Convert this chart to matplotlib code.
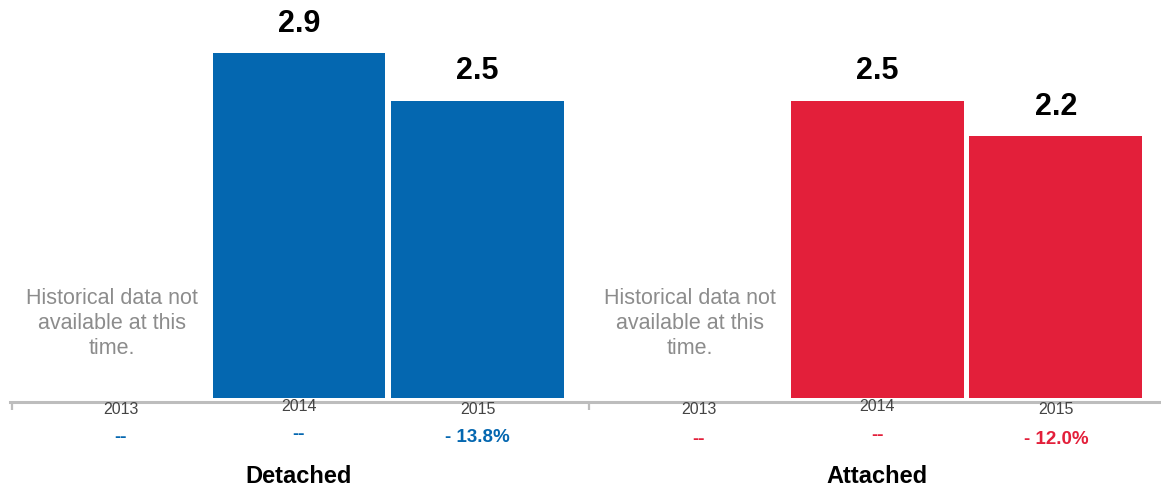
import numpy as np
import matplotlib
matplotlib.use('Agg')
import matplotlib.pyplot as plt

plt.rcParams['font.family'] = ['Liberation Sans', 'DejaVu Sans']

years = ['2013', '2014', '2015']
groups = ['Detached', 'Attached']
detached = [np.nan, 2.9, 2.5]
attached = [np.nan, 2.5, 2.2]
detached_change = ['--', '--', '- 13.8%']
attached_change = ['--', '--', '- 12.0%']
note = 'Historical data not\navailable at this\ntime.'

blue = '#0467b0'
red = '#e31f3a'
grey = '#bdbdbd'

fig = plt.figure(figsize=(11.61, 4.91), dpi=100)
ax = fig.add_axes([10 / 1161, 0.182, 1151 / 1161, 0.818])

group_offset = [0, 3.24]
series = [detached, attached]
changes = [detached_change, attached_change]
colors = [blue, red]

for g in range(2):
    x = np.arange(len(years)) + group_offset[g]
    vals = np.array(series[g], dtype=float)
    ax.bar(x, vals, width=0.969, color=colors[g], zorder=2)
    for i in range(len(years)):
        if np.isnan(vals[i]):
            # no bar for this year, show the note instead
            ax.text(x[i] - 0.05, 0.625, note, ha='center', va='center',
                    fontsize=15.5, color='#8c8c8c', linespacing=1.25)
        else:
            ax.text(x[i], vals[i] + 0.18, f'{vals[i]:.1f}', ha='center',
                    va='baseline', fontsize=22, fontweight='bold', color='black')
        dy = 0.025 if i == 1 else 0
        ax.text(x[i], -0.1 + dy, years[i], ha='center', va='center',
                fontsize=11.5, color='#444444', clip_on=False)
        cy = -0.335 + dy if g == 0 else -0.35 + 1.5 * dy
        ax.text(x[i], cy, changes[g][i], ha='center', va='center',
                fontsize=13.5, fontweight='bold', color=colors[g], clip_on=False)
    ax.text(x[1], -0.66, groups[g], ha='center', va='center',
            fontsize=17, fontweight='bold', color='black', clip_on=False)

ax.set_xlim(-0.619, 5.829)
ax.set_ylim(-0.03, 3.345)
for s in ['top', 'right', 'left']:
    ax.spines[s].set_visible(False)
ax.spines['bottom'].set_color(grey)
ax.spines['bottom'].set_linewidth(2.2)
ax.set_yticks([])
ax.set_xticks([-0.605, 2.625])
ax.set_xticklabels([])
ax.tick_params(axis='x', length=6, width=1.6, color=grey, direction='out')

fig.savefig('out.png', dpi=100)
